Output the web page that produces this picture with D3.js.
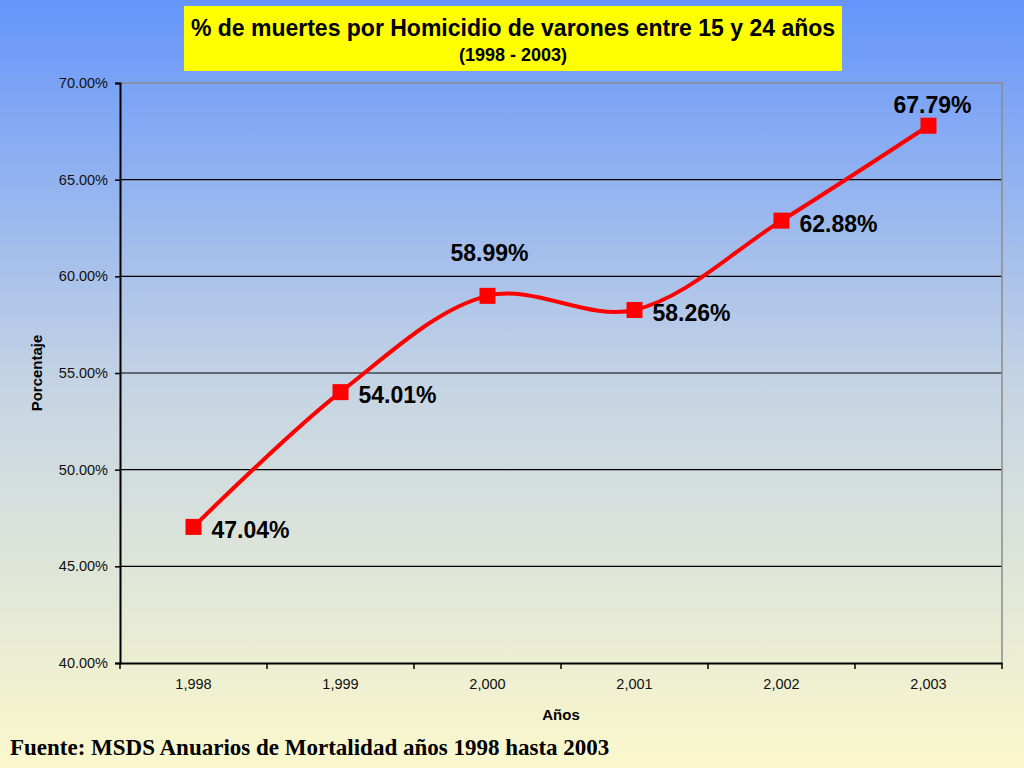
<!DOCTYPE html>
<html>
<head>
<meta charset="utf-8">
<script src="https://cdn.jsdelivr.net/npm/d3@7"></script>
<style>
  body { margin: 0; }
  svg { display: block; }
  text { font-family: "Liberation Sans", Arial, sans-serif; }
</style>
</head>
<body>
<div id="chart"></div>
<script>
var years = ['1,998', '1,999', '2,000', '2,001', '2,002', '2,003'];
var values = [47.04, 54.01, 58.99, 58.26, 62.88, 67.79];
var yTicks = [40, 45, 50, 55, 60, 65, 70];
// where Excel put each data label (dx, dy from the marker)
var labelShift = [[18, 3], [18, 3], [2, -43], [18, 3], [18, 3], [4, -21]];

var W = 1024, H = 768;
var margin = {top: 83, right: 22, bottom: 105, left: 120};
var width = W - margin.left - margin.right,
    height = H - margin.top - margin.bottom;

var root = d3.select('#chart').append('svg')
    .attr('width', W)
    .attr('height', H);

// background gradient blue -> pale yellow
var grad = root.append('defs').append('linearGradient')
    .attr('id', 'bg')
    .attr('x1', 0).attr('y1', 0).attr('x2', 0).attr('y2', 1);
grad.append('stop').attr('offset', '0%').attr('stop-color', '#6595fb');
grad.append('stop').attr('offset', '50%').attr('stop-color', '#c5d4e4');
grad.append('stop').attr('offset', '100%').attr('stop-color', '#fbf8cc');
root.append('rect').attr('width', W).attr('height', H).attr('fill', 'url(#bg)');

// title box
root.append('rect')
    .attr('x', 184).attr('y', 6)
    .attr('width', 658).attr('height', 65)
    .attr('fill', '#ffff00');
root.append('text')
    .attr('x', 513).attr('y', 36)
    .attr('text-anchor', 'middle')
    .style('font-size', '23px').style('font-weight', 'bold')
    .text('% de muertes por Homicidio de varones entre 15 y 24 años');
root.append('text')
    .attr('x', 513).attr('y', 61)
    .attr('text-anchor', 'middle')
    .style('font-size', '18px').style('font-weight', 'bold')
    .text('(1998 - 2003)');

var svg = root.append('g')
    .attr('transform', 'translate(' + margin.left + ',' + margin.top + ')');

var x = d3.scaleBand()
        .domain(years)
        .range([0, width]),
    y = d3.scaleLinear()
        .domain([40, 70])
        .range([height, 0]);

// gridlines
svg.selectAll('.grid')
  .data(yTicks.slice(1, -1))
    .enter().append('line')
  .attr('x1', 0).attr('x2', width)
  .attr('y1', function(d) { return y(d); })
  .attr('y2', function(d) { return y(d); })
  .attr('stroke', '#000').attr('stroke-width', 1.2);

// grey top and right borders
svg.append('path')
  .attr('d', 'M0,' + y(70) + 'H' + width + 'V' + height)
  .attr('fill', 'none')
  .attr('stroke', '#8c8c8c').attr('stroke-width', 1.5);

// y axis
var yAxis = svg.append('g')
  .call(d3.axisLeft(y).tickValues(yTicks).tickSize(5).tickPadding(7)
        .tickFormat(function(d) { return d.toFixed(2) + '%'; }));
yAxis.select('.domain').attr('stroke-width', 2);
yAxis.selectAll('.tick line').attr('stroke-width', 1.5);
yAxis.selectAll('text').style('font-size', '14.5px').style('font-family', '"Liberation Sans", Arial, sans-serif').attr('fill', '#111');

// x axis: ticks at band boundaries
var xAxis = svg.append('g')
  .attr('transform', 'translate(0,' + height + ')')
  .call(d3.axisBottom(x).tickSize(0).tickPadding(16));
xAxis.select('.domain').attr('stroke-width', 2);
xAxis.selectAll('text').style('font-size', '14.5px').style('font-family', '"Liberation Sans", Arial, sans-serif').attr('fill', '#111');
svg.selectAll('.xtick')
  .data(years.concat(['end']))
    .enter().append('line')
  .attr('x1', function(d, i) { return i * x.step(); })
  .attr('x2', function(d, i) { return i * x.step(); })
  .attr('y1', height).attr('y2', height + 6)
  .attr('stroke', '#000').attr('stroke-width', 1.5);

// axis titles
svg.append('text')
  .attr('x', width / 2).attr('y', height + 57)
  .attr('text-anchor', 'middle')
  .style('font-size', '15px').style('font-weight', 'bold')
  .text('Años');
svg.append('text')
  .attr('transform', 'translate(-78,' + (height / 2) + ') rotate(-90)')
  .attr('text-anchor', 'middle')
  .style('font-size', '15px').style('font-weight', 'bold')
  .text('Porcentaje');

var cx = function(d, i) { return x(years[i]) + x.bandwidth() / 2; };

// smoothed line
var line = d3.line()
  .x(cx)
  .y(function(d) { return y(d); })
  .curve(d3.curveCatmullRom.alpha(0.5));

svg.append('path')
  .datum(values)
  .attr('d', line)
  .attr('fill', 'none')
  .attr('stroke', '#ff0000')
  .attr('stroke-width', 4);

// markers
svg.selectAll('.marker')
  .data(values)
    .enter().append('rect')
  .attr('x', function(d, i) { return cx(d, i) - 8; })
  .attr('y', function(d) { return y(d) - 8; })
  .attr('width', 16).attr('height', 16)
  .attr('fill', '#ff0000');

// data labels
svg.selectAll('.label')
  .data(values)
    .enter().append('text')
  .attr('x', function(d, i) { return cx(d, i) + labelShift[i][0]; })
  .attr('y', function(d, i) { return y(d) + labelShift[i][1]; })
  .attr('dy', '0.35em')
  .attr('text-anchor', function(d, i) { return labelShift[i][1] < 0 ? 'middle' : 'start'; })
  .style('font-size', '23px').style('font-weight', 'bold')
  .text(function(d) { return d.toFixed(2) + '%'; });

// source note
root.append('text')
  .attr('x', 10).attr('y', 755)
  .style('font-family', '"Liberation Serif", "Times New Roman", serif')
  .style('font-size', '23px').style('font-weight', 'bold')
  .text('Fuente: MSDS Anuarios de Mortalidad años 1998 hasta 2003');
</script>
</body>
</html>
